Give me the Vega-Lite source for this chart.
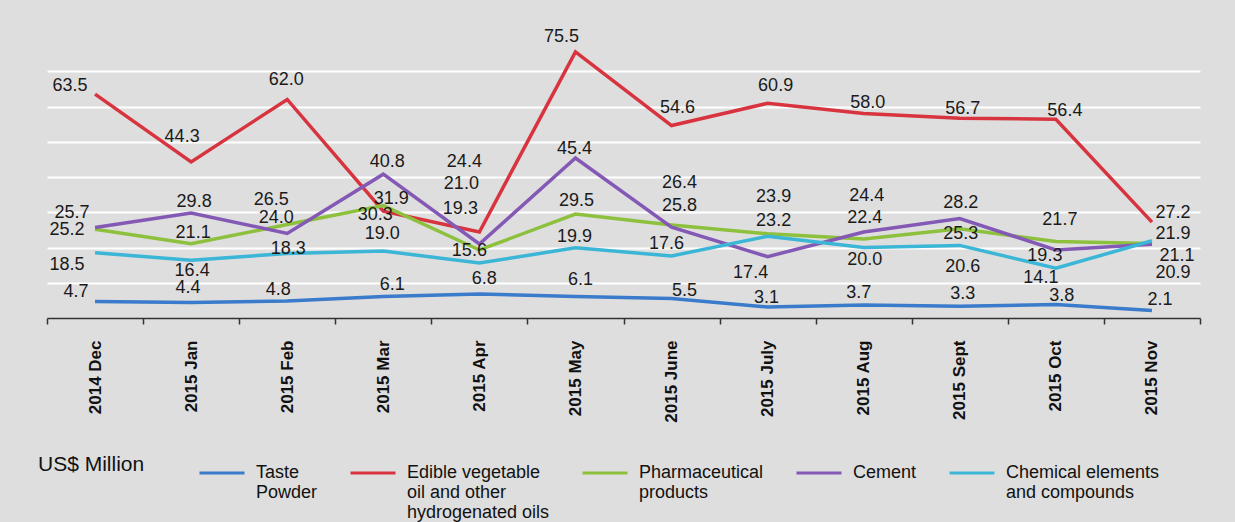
{
  "$schema": "https://vega.github.io/schema/vega-lite/v6.json",
  "width": 1153,
  "height": 282,
  "autosize": {"type": "none"},
  "padding": {"left": 47, "top": 36, "right": 35, "bottom": 204},
  "background": "#dedede",
  "config": {"view": {"stroke": null, "fill": "#dedede"}, "font": "Liberation Sans"},
  "data": {"values": [
    {"m": "2014 Dec", "s": "Taste Powder", "v": 4.7},
    {"m": "2014 Dec", "s": "Edible vegetable oil and other hydrogenated oils", "v": 63.5},
    {"m": "2014 Dec", "s": "Pharmaceutical products", "v": 25.2},
    {"m": "2014 Dec", "s": "Cement", "v": 25.7},
    {"m": "2014 Dec", "s": "Chemical elements and compounds", "v": 18.5},
    {"m": "2015 Jan", "s": "Taste Powder", "v": 4.4},
    {"m": "2015 Jan", "s": "Edible vegetable oil and other hydrogenated oils", "v": 44.3},
    {"m": "2015 Jan", "s": "Pharmaceutical products", "v": 21.1},
    {"m": "2015 Jan", "s": "Cement", "v": 29.8},
    {"m": "2015 Jan", "s": "Chemical elements and compounds", "v": 16.4},
    {"m": "2015 Feb", "s": "Taste Powder", "v": 4.8},
    {"m": "2015 Feb", "s": "Edible vegetable oil and other hydrogenated oils", "v": 62.0},
    {"m": "2015 Feb", "s": "Pharmaceutical products", "v": 26.5},
    {"m": "2015 Feb", "s": "Cement", "v": 24.0},
    {"m": "2015 Feb", "s": "Chemical elements and compounds", "v": 18.3},
    {"m": "2015 Mar", "s": "Taste Powder", "v": 6.1},
    {"m": "2015 Mar", "s": "Edible vegetable oil and other hydrogenated oils", "v": 30.3},
    {"m": "2015 Mar", "s": "Pharmaceutical products", "v": 31.9},
    {"m": "2015 Mar", "s": "Cement", "v": 40.8},
    {"m": "2015 Mar", "s": "Chemical elements and compounds", "v": 19.0},
    {"m": "2015 Apr", "s": "Taste Powder", "v": 6.8},
    {"m": "2015 Apr", "s": "Edible vegetable oil and other hydrogenated oils", "v": 24.4},
    {"m": "2015 Apr", "s": "Pharmaceutical products", "v": 19.3},
    {"m": "2015 Apr", "s": "Cement", "v": 21.0},
    {"m": "2015 Apr", "s": "Chemical elements and compounds", "v": 15.6},
    {"m": "2015 May", "s": "Taste Powder", "v": 6.1},
    {"m": "2015 May", "s": "Edible vegetable oil and other hydrogenated oils", "v": 75.5},
    {"m": "2015 May", "s": "Pharmaceutical products", "v": 29.5},
    {"m": "2015 May", "s": "Cement", "v": 45.4},
    {"m": "2015 May", "s": "Chemical elements and compounds", "v": 19.9},
    {"m": "2015 June", "s": "Taste Powder", "v": 5.5},
    {"m": "2015 June", "s": "Edible vegetable oil and other hydrogenated oils", "v": 54.6},
    {"m": "2015 June", "s": "Pharmaceutical products", "v": 26.4},
    {"m": "2015 June", "s": "Cement", "v": 25.8},
    {"m": "2015 June", "s": "Chemical elements and compounds", "v": 17.6},
    {"m": "2015 July", "s": "Taste Powder", "v": 3.1},
    {"m": "2015 July", "s": "Edible vegetable oil and other hydrogenated oils", "v": 60.9},
    {"m": "2015 July", "s": "Pharmaceutical products", "v": 23.9},
    {"m": "2015 July", "s": "Cement", "v": 17.4},
    {"m": "2015 July", "s": "Chemical elements and compounds", "v": 23.2},
    {"m": "2015 Aug", "s": "Taste Powder", "v": 3.7},
    {"m": "2015 Aug", "s": "Edible vegetable oil and other hydrogenated oils", "v": 58.0},
    {"m": "2015 Aug", "s": "Pharmaceutical products", "v": 22.4},
    {"m": "2015 Aug", "s": "Cement", "v": 24.4},
    {"m": "2015 Aug", "s": "Chemical elements and compounds", "v": 20.0},
    {"m": "2015 Sept", "s": "Taste Powder", "v": 3.3},
    {"m": "2015 Sept", "s": "Edible vegetable oil and other hydrogenated oils", "v": 56.7},
    {"m": "2015 Sept", "s": "Pharmaceutical products", "v": 25.3},
    {"m": "2015 Sept", "s": "Cement", "v": 28.2},
    {"m": "2015 Sept", "s": "Chemical elements and compounds", "v": 20.6},
    {"m": "2015 Oct", "s": "Taste Powder", "v": 3.8},
    {"m": "2015 Oct", "s": "Edible vegetable oil and other hydrogenated oils", "v": 56.4},
    {"m": "2015 Oct", "s": "Pharmaceutical products", "v": 21.7},
    {"m": "2015 Oct", "s": "Cement", "v": 19.3},
    {"m": "2015 Oct", "s": "Chemical elements and compounds", "v": 14.1},
    {"m": "2015 Nov", "s": "Taste Powder", "v": 2.1},
    {"m": "2015 Nov", "s": "Edible vegetable oil and other hydrogenated oils", "v": 27.2},
    {"m": "2015 Nov", "s": "Pharmaceutical products", "v": 21.1},
    {"m": "2015 Nov", "s": "Cement", "v": 20.9},
    {"m": "2015 Nov", "s": "Chemical elements and compounds", "v": 21.9}
  ]},
  "encoding": {
    "x": {
      "field": "m", "type": "ordinal", "sort": null,
      "scale": {"type": "band", "paddingInner": 0, "paddingOuter": 0},
      "axis": {
        "title": null, "labelAngle": -90, "labelFont": "Liberation Sans",
        "labelFontWeight": "bold", "labelFontSize": 17, "labelColor": "#111111",
        "tickBand": "extent", "tickSize": 6, "tickColor": "#333333", "tickWidth": 1.5,
        "domainColor": "#333333", "domainWidth": 1.5, "labelPadding": 16, "grid": false
      }
    },
    "y": {
      "field": "v", "type": "quantitative",
      "scale": {"domain": [0, 80], "nice": false},
      "axis": {
        "title": null, "labels": false, "ticks": false, "domain": false,
        "grid": true, "values": [10, 20, 30, 40, 50, 60, 70],
        "gridColor": "#ffffff", "gridWidth": 2
      }
    }
  },
  "layer": [
    {
      "mark": {"type": "line", "strokeWidth": 3.5},
      "encoding": {
        "color": {
          "field": "s", "type": "nominal",
          "scale": {
            "domain": ["Taste Powder", "Edible vegetable oil and other hydrogenated oils", "Pharmaceutical products", "Cement", "Chemical elements and compounds"],
            "range": ["#3a7bcb", "#d8343f", "#8dc03d", "#8459b5", "#3cb6d6"]
          },
          "legend": {
            "title": "US$ Million", "orient": "none", "legendX": -9, "legendY": 413,
            "direction": "horizontal", "columns": 5, "titleOrient": "left",
            "titleAnchor": "start", "titleBaseline": "line-top", "titleLineHeight": 31,
            "titleFont": "Liberation Sans", "titleFontSize": 21, "titleFontWeight": "normal",
            "titleColor": "#111111", "titlePadding": 53,
            "symbolType": "stroke", "symbolSize": 2025, "symbolStrokeWidth": 3,
            "labelFont": "Liberation Sans", "labelFontSize": 18, "labelColor": "#111111",
            "labelBaseline": "middle", "labelOffset": 10, "columnPadding": 26, "labelLimit": 300,
            "labelExpr": "datum.label == 'Taste Powder' ? ['Taste', 'Powder', ' '] : datum.label == 'Edible vegetable oil and other hydrogenated oils' ? ['Edible vegetable', 'oil and other', 'hydrogenated oils'] : datum.label == 'Pharmaceutical products' ? ['Pharmaceutical', 'products', ' '] : datum.label == 'Chemical elements and compounds' ? ['Chemical elements', 'and compounds', ' '] : [datum.label, ' ', ' ']",
            "encode": {"labels": {"update": {"lineHeight": {"value": 20}}}}
          }
        }
      }
    },
    {
      "mark": {
        "type": "text", "font": "Liberation Sans", "fontSize": 18, "color": "#1a1a1a",
        "align": "center", "baseline": "middle",
        "dx": {"expr": "[[-19,-25,-28,-23,-28],[-3,-9,2,3,1],[-9,-1,-16,-11,1],[9,-8,8,4,-1],[5,-15,-19,-18,-10],[5,-14,1,-1,-1],[13,6,8,8,-5],[-1,8,6,-17,6],[-5,4,1,3,1],[3,3,1,1,3],[6,9,4,-11,-15],[8,21,25,21,21]][indexof(['2014 Dec','2015 Jan','2015 Feb','2015 Mar','2015 Apr','2015 May','2015 June','2015 July','2015 Aug','2015 Sept','2015 Oct','2015 Nov'], datum.m)][indexof(['Taste Powder','Edible vegetable oil and other hydrogenated oils','Pharmaceutical products','Cement','Chemical elements and compounds'], datum.s)]"},
        "dy": {"expr": "[[-9,-8,1,-14,12],[-14,-25,-11,-11,11],[-11,-19,-25,-15,-4],[-11,4,-7,-12,-17],[-15,-70,-41,-60,-12],[-16,-15,-13,-9,-11],[-8,-18,-42,-21,-12],[-9,-17,-37,16,-15],[-12,-11,-21,-36,12],[-12,-9,5,-16,22],[-9,-8,-22,6,10],[-11,-9,12,29,-7]][indexof(['2014 Dec','2015 Jan','2015 Feb','2015 Mar','2015 Apr','2015 May','2015 June','2015 July','2015 Aug','2015 Sept','2015 Oct','2015 Nov'], datum.m)][indexof(['Taste Powder','Edible vegetable oil and other hydrogenated oils','Pharmaceutical products','Cement','Chemical elements and compounds'], datum.s)]"}
      },
      "encoding": {
        "text": {"field": "v", "type": "quantitative", "format": ".1f"}
      }
    }
  ]
}
